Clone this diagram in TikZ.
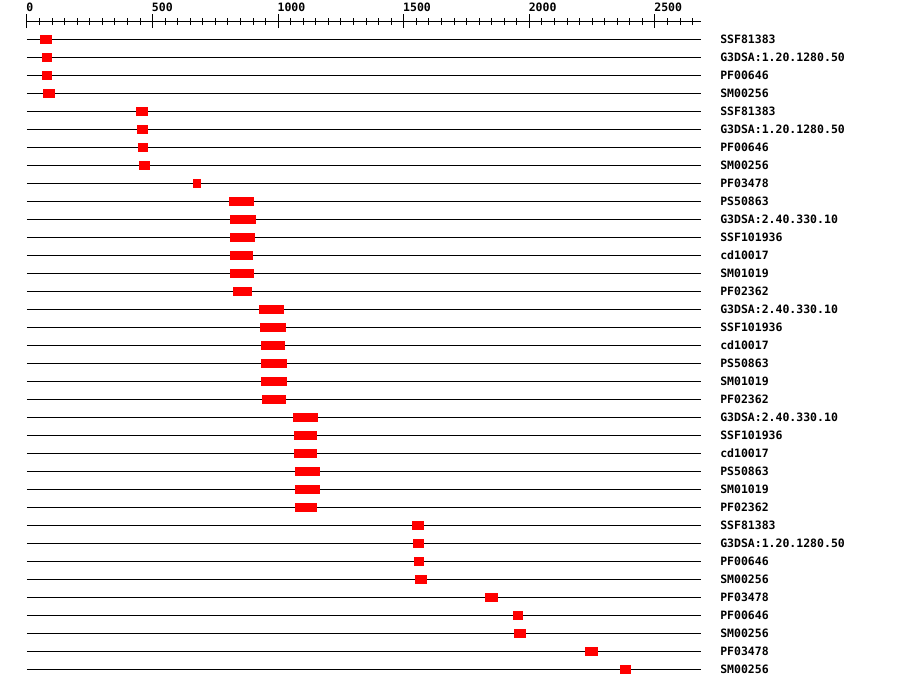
\documentclass[tikz,border=0pt]{standalone}
\usepackage{fontspec}
\newfontfamily\pixmono{DejaVu Sans Mono}
\usepackage{tikz}
\definecolor{hitred}{HTML}{FF0000}
\definecolor{ink}{HTML}{000000}
\tikzset{
  track/.style={draw=ink,line width=1pt},
  hit/.style={fill=hitred,draw=none},
  ruler/.style={draw=ink,line width=1pt},
  dblabel/.style={font={\pixmono\bfseries\fontsize{11.5}{12}\selectfont},
                  text=ink,anchor=base west,inner sep=0pt},
}

\begin{document}
\begin{tikzpicture}[x=0.2512pt,y=-18pt]
  \useasboundingbox(-107.48,-1.18)rectangle(3475.4,37.04);
  % ruler
  \draw[ruler](0,0)--(2683,0);
  \foreach \t in {0,50,...,2650}{
    \draw[ruler](\t,0)++(0,-3.4pt)--++(0,6.8pt);
  }
  \foreach \t in {0,500,...,2500}{
    \draw[ruler](\t,0)++(0,-7pt)--++(0,14pt);
    \node[dblabel,xshift=-0.8pt,yshift=9.5pt](tick\t)at(\t,0){\t};
  }
  % one track per domain hit: row/start/end/label
  \foreach \r/\a/\b/\lbl in {
      1/52/100/SSF81383,
      2/60/100/G3DSA:1.20.1280.50,
      3/60/100/PF00646,
      4/64/111/SM00256,
      5/434/482/SSF81383,
      6/438/482/G3DSA:1.20.1280.50,
      7/442/482/PF00646,
      8/446/490/SM00256,
      9/661/693/PF03478,
      10/804/904/PS50863,
      11/808/912/G3DSA:2.40.330.10,
      12/808/908/SSF101936,
      13/808/900/cd10017,
      14/808/904/SM01019,
      15/820/896/PF02362,
      16/924/1023/G3DSA:2.40.330.10,
      17/928/1031/SSF101936,
      18/932/1027/cd10017,
      19/932/1035/PS50863,
      20/932/1035/SM01019,
      21/936/1031/PF02362,
      22/1059/1158/G3DSA:2.40.330.10,
      23/1063/1154/SSF101936,
      24/1063/1154/cd10017,
      25/1067/1166/PS50863,
      26/1067/1166/SM01019,
      27/1067/1154/PF02362,
      28/1533/1580/SSF81383,
      29/1537/1580/G3DSA:1.20.1280.50,
      30/1541/1580/PF00646,
      31/1545/1592/SM00256,
      32/1823/1875/PF03478,
      33/1935/1975/PF00646,
      34/1939/1986/SM00256,
      35/2221/2273/PF03478,
      36/2361/2404/SM00256}{
    \draw[track](0,\r)--(2683,\r);
    \fill[hit](\a,\r-0.25)rectangle(\b,\r+0.25);
    \node[dblabel,yshift=-4.2pt](lab\r)at(2759,\r){\lbl};
  }
\end{tikzpicture}
\end{document}
